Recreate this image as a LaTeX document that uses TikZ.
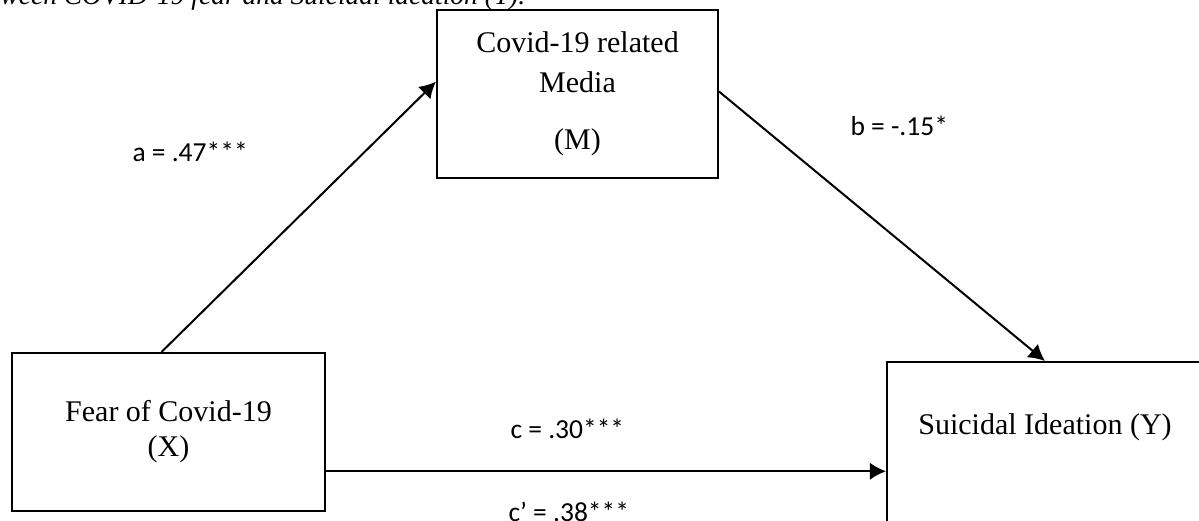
\documentclass[tikz,border=0pt]{standalone}
\usepackage{fontspec}
\setmainfont{Liberation Serif}
\newfontfamily\calibri{Carlito}
\usetikzlibrary{arrows.meta}

\begin{document}
\begin{tikzpicture}[x=0.4pt,y=-0.4pt,
    var/.style={draw,line width=0.8pt,align=center,inner sep=0pt,font=\fontsize{12}{14}\selectfont},
    effect/.style={line width=0.8pt,-{Latex[length=6.5pt,width=7pt]}},
    coef/.style={anchor=base west,inner sep=0pt,font=\calibri\fontsize{11}{13}\selectfont}]
    \useasboundingbox (0,0) rectangle (1199,520);
    % Caption (cut off at the top)
    \node[anchor=base west,inner sep=0pt,font=\itshape\fontsize{11}{13}\selectfont] (caption) at (0,4) {ween COVID-19 fear and Suicidal ideation (Y).};

    % Draw variables
    \node[var,minimum width=125.2pt,minimum height=63.2pt] (x) at (168.5,432) {Fear of Covid-19\\(X)};
    \node[var,minimum width=112.4pt,minimum height=67.2pt,font=\fontsize{12}{16}\selectfont] (m) at (577.5,94) {Covid-19 related\\Media\\[6.8pt](M)};
    \node[var,anchor=north west,minimum width=126.4pt,text height=28.8pt,text depth=40pt] (y) at (886,361) {Suicidal Ideation (Y)};

    % Draw paths
    \draw[effect] (x.95.4) -- (m.175); % a path
    \draw[effect] (m.1) -- (y.north); % b path
    \draw[effect] (x.346.7) -- (x.346.7 -| y.west); % c path

    % Label paths
    \node[coef] (a) at (132,161) {a = .47***};
    \node[coef] (b) at (850,135) {b = -.15*};
    \node[coef] (c) at (510,438) {c = .30***};
    \node[coef] (cp) at (508,521) {c’ = .38***};
\end{tikzpicture}
\end{document}
